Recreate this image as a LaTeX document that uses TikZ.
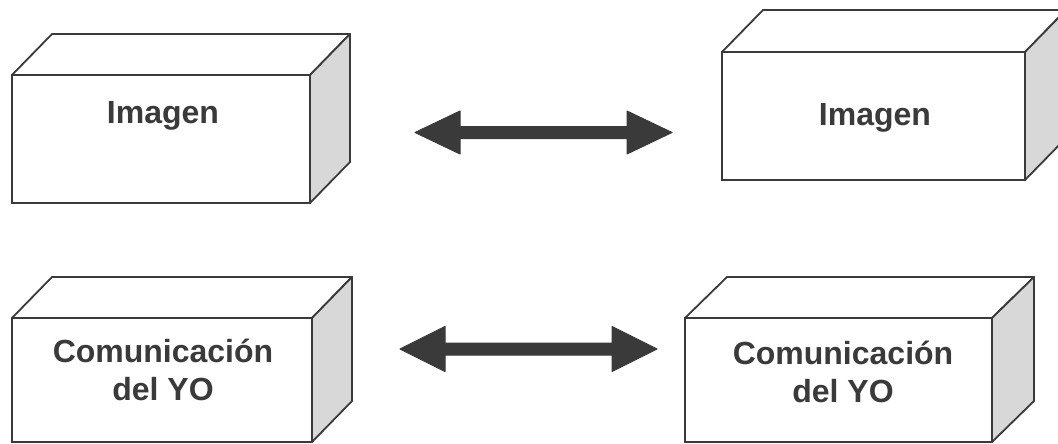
\documentclass[tikz,border=0pt]{standalone}
\usepackage{fontspec}
\setmainfont{Liberation Sans}
\usetikzlibrary{calc}
\definecolor{ink}{HTML}{3A3A3A}
\definecolor{sideface}{HTML}{D8D8D8}
\begin{document}
\begin{tikzpicture}[x=1pt,y=-1pt,
  front/.style={draw=ink, line width=1.8pt, fill=white, inner sep=0pt, outer sep=0pt, anchor=north west},
  edge/.style={draw=ink, line width=1.8pt, line join=round},
  lbl/.style={text=ink, font=\fontsize{32}{38}\selectfont\bfseries, inner sep=0pt, anchor=base, align=center},
  arrowfill/.style={fill=ink, draw=ink, line width=1pt, line join=round}]
\useasboundingbox (0,0) rectangle (1058,444);
\clip (0,0) rectangle (1058,444);
% box 1
\node[front, minimum width=298pt, minimum height=128pt] (b1) at (12,75) {};
\draw[edge, fill=white] (b1.north west) -- ++(40,-41) -- ++(298,0) -- (b1.north east) -- cycle;
\draw[edge, fill=sideface] (b1.north east) -- ++(40,-41) -- ++(0,128) -- (b1.south east) -- cycle;
\node[lbl] (t1) at (163,123) {Imagen};
% box 2
\node[front, minimum width=303pt, minimum height=128pt] (b2) at (722,52) {};
\draw[edge, fill=white] (b2.north west) -- ++(41,-42) -- ++(303,0) -- (b2.north east) -- cycle;
\draw[edge, fill=sideface] (b2.north east) -- ++(41,-42) -- ++(0,128) -- (b2.south east) -- cycle;
\node[lbl] (t2) at (875,125) {Imagen};
% box 3
\node[front, minimum width=300pt, minimum height=124pt] (b3) at (12,318) {};
\draw[edge, fill=white] (b3.north west) -- ++(40,-41) -- ++(300,0) -- (b3.north east) -- cycle;
\draw[edge, fill=sideface] (b3.north east) -- ++(40,-41) -- ++(0,124) -- (b3.south east) -- cycle;
\node[lbl] (t3) at (163,400) {Comunicación\\del YO};
% box 4
\node[front, minimum width=307pt, minimum height=124pt] (b4) at (685,318) {};
\draw[edge, fill=white] (b4.north west) -- ++(42,-41) -- ++(307,0) -- (b4.north east) -- cycle;
\draw[edge, fill=sideface] (b4.north east) -- ++(42,-41) -- ++(0,124) -- (b4.south east) -- cycle;
\node[lbl] (t4) at (843,402) {Comunicación\\del YO};
% arrows
\coordinate (a1l) at (415,132.5);
\coordinate (a1r) at (672,132.5);
\fill[arrowfill] (a1l) -- ++(45,-21.5) -- ++(0,15.5) -- ($(a1r)+(-45,-6)$) -- ++(0,-15.5) -- (a1r)
  -- ++(-45,21.5) -- ++(0,-15.5) -- ($(a1l)+(45,6)$) -- ++(0,15.5) -- cycle;
\coordinate (a2l) at (400,349);
\coordinate (a2r) at (657,349);
\fill[arrowfill] (a2l) -- ++(45,-22.5) -- ++(0,16.5) -- ($(a2r)+(-45,-6)$) -- ++(0,-16.5) -- (a2r)
  -- ++(-45,22.5) -- ++(0,-16.5) -- ($(a2l)+(45,6)$) -- ++(0,16.5) -- cycle;
\end{tikzpicture}
\end{document}
